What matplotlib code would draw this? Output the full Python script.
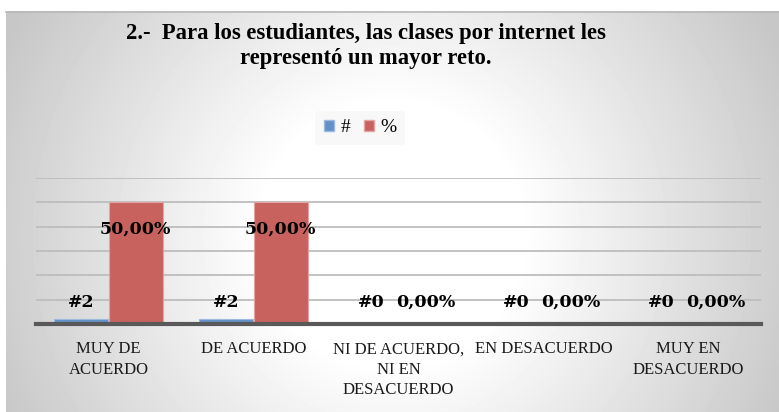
import numpy as np
import matplotlib
matplotlib.use("Agg")
import matplotlib.pyplot as plt
from matplotlib.patches import Patch

categories = ["MUY DE\nACUERDO", "DE ACUERDO", "NI DE ACUERDO,\nNI EN\nDESACUERDO",
              "EN DESACUERDO", "MUY EN\nDESACUERDO"]
count_values = [2, 2, 0, 0, 0]
pct_values = [50, 50, 0, 0, 0]
count_labels = ["#2", "#2", "#0", "#0", "#0"]
pct_labels = ["50,00%", "50,00%", "0,00%", "0,00%", "0,00%"]
title = "2.-  Para los estudiantes, las clases por internet les\nrepresentó un mayor reto."

W, H = 779, 412
fig = plt.figure(figsize=(W / 100, H / 100), dpi=100)
fig.patch.set_facecolor("white")

# background radial gradient
bg = fig.add_axes([0, 0, 1, 1], zorder=-5)
bg.set_xlim(0, W)
bg.set_ylim(H, 0)
bg.axis("off")
x0, y0 = 6, 11
xs = np.arange(x0, W) + 0.5
ys = np.arange(y0, H) + 0.5
X, Y = np.meshgrid(xs, ys)
r = np.hypot(X - 392, Y - 235)
val = 1 - 0.22 * np.clip((r - 130) / 300, 0, 1)
bg.imshow(val, cmap="gray", vmin=0, vmax=1, extent=(x0, W, H, y0),
          interpolation="bilinear", aspect="auto")
bg.plot([x0, W], [y0 + 0.5, y0 + 0.5], color="#b8b8b8", lw=1.2)

serif = ["Liberation Serif", "DejaVu Serif"]
lab_font = ["DejaVu Serif"]

ax = fig.add_axes([36 / W, 88 / H, 725 / W, 146 / H])
ax.set_facecolor("none")
x = np.arange(len(categories))
bw = 0.372
ax.bar(x - bw / 2 - 0.003, count_values, bw, color="#6390C9", edgecolor="#9DB9DF",
       linewidth=0.8, zorder=3)
ax.bar(x + bw / 2 + 0.003, pct_values, bw, color="#C8625F", edgecolor="#E3A4A2",
       linewidth=0.8, zorder=3)
ax.set_xlim(-0.5, len(categories) - 0.5)
ax.set_ylim(0, 60)
ax.set_yticks(np.arange(10, 61, 10))
ax.grid(axis="y", color="#bdbdbd", linewidth=1.3, zorder=0)
ax.tick_params(axis="y", left=False, labelleft=False)
ax.tick_params(axis="x", bottom=False, pad=9)
for s in ["top", "right", "left"]:
    ax.spines[s].set_visible(False)
ax.spines["bottom"].set_color("#595959")
ax.spines["bottom"].set_linewidth(3)
ax.spines["bottom"].set_zorder(4)
ax.set_xticks(x)
ax.set_xticklabels(categories, fontfamily=serif, fontsize=12, color="#1a1a1a",
                   linespacing=1.36, va="top")

for i in range(len(categories)):
    off_c = 12.3 if count_values[i] > 0 else 15.5
    ax.annotate(count_labels[i], (x[i] - bw / 2, count_values[i]), xytext=(0, off_c),
                textcoords="offset points", ha="center", va="center",
                fontfamily=lab_font, fontweight="bold", fontsize=12.5, zorder=5)
    off_p = -19 if pct_values[i] > 0 else 15.5
    ax.annotate(pct_labels[i], (x[i] + bw / 2, pct_values[i]), xytext=(0, off_p),
                textcoords="offset points", ha="center", va="center",
                fontfamily=lab_font, fontweight="bold", fontsize=12.5, zorder=5)

fig.text(366 / W, 1 - 46 / H, title, ha="center", va="center", fontfamily=serif,
         fontweight="bold", fontsize=16.3, linespacing=1.25)

handles = [Patch(facecolor="#6390C9", edgecolor="#9DB9DF"),
           Patch(facecolor="#C8625F", edgecolor="#E3A4A2")]
leg = fig.legend(handles, ["#", "%"], loc="center", bbox_to_anchor=(360 / W, 1 - 128 / H),
                 ncol=2, frameon=True, prop={"family": serif, "size": 14},
                 handlelength=0.55, handleheight=0.55, handletextpad=0.3,
                 columnspacing=0.7, borderpad=0.45)
leg.get_frame().set_facecolor("#f7f7f7")
leg.get_frame().set_edgecolor("none")
leg.get_frame().set_alpha(0.8)

fig.savefig("out.png", dpi=100)
